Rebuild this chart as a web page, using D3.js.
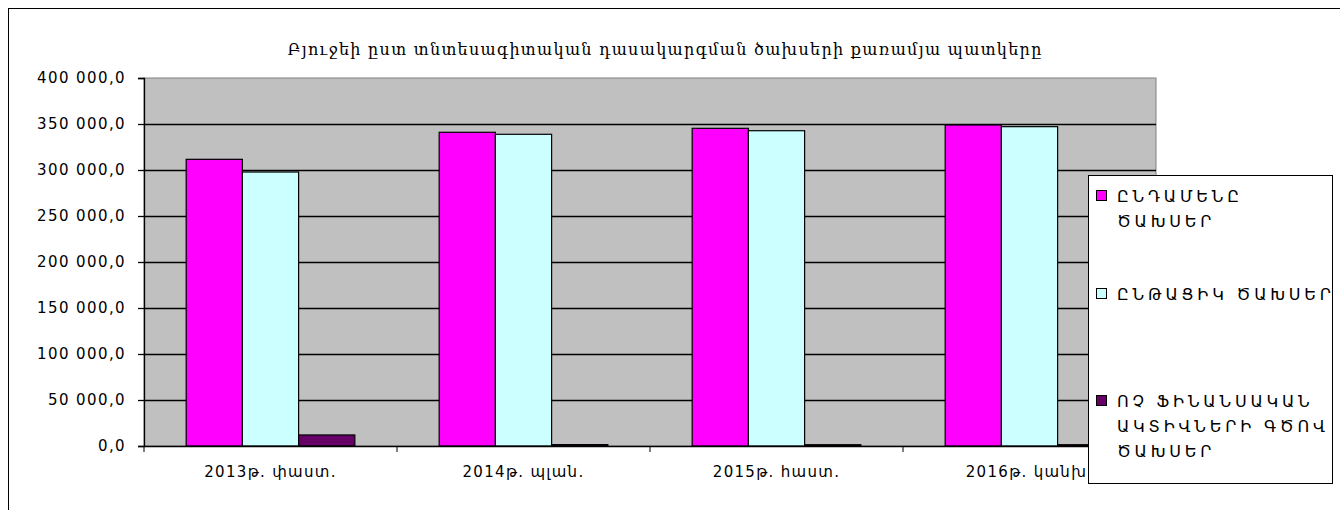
<!DOCTYPE html>
<html>
<head>
<meta charset="utf-8">
<script src="https://cdn.jsdelivr.net/npm/d3@7"></script>
<style>
  body { margin: 0; background: #fff; }
  svg text { fill: #000; }
</style>
</head>
<body>
<div id="chart"></div>
<script>
'use strict';

var title = 'Բյուջեի ըստ տնտեսագիտական դասակարգման ծախսերի քառամյա պատկերը';
var categories = ['2013թ.  փաստ.', '2014թ.  պլան.', '2015թ. հաստ.', '2016թ.  կանխ.'];
var seriesNames = [
  ['ԸՆԴԱՄԵՆԸ', 'ԾԱԽՍԵՐ'],
  ['ԸՆԹԱՑԻԿ ԾԱԽՍԵՐ'],
  ['ՈՉ ՖԻՆԱՆՍԱԿԱՆ', 'ԱԿՏԻՎՆԵՐԻ ԳԾՈՎ', 'ԾԱԽՍԵՐ']
];
var totalSpend = [311600, 341000, 345300, 348900];
var currentSpend = [297800, 338800, 342700, 347100];
var assetSpend = [12000, 1500, 1400, 1400];
var yTicks = [0, 50000, 100000, 150000, 200000, 250000, 300000, 350000, 400000];
var colors = ['#ff00ff', '#ccffff', '#660066'];

var W = 1340, H = 510;
var plot = {left: 144, top: 78, right: 1156, bottom: 446};

var svg = d3.select('#chart').append('svg')
    .attr('width', W)
    .attr('height', H);

// outer chart frame
svg.append('rect')
  .attr('x', 8.5).attr('y', 8.5)
  .attr('width', W).attr('height', H)
  .attr('fill', '#fff')
  .attr('stroke', '#000');

var x0 = d3.scaleBand()
  .domain(categories)
  .range([plot.left, plot.right]);

// excel style: gap width 150%
var x1 = d3.scaleBand()
  .domain([0, 1, 2])
  .range([0, x0.bandwidth()])
  .paddingOuter(0.75);

var y = d3.scaleLinear()
  .domain([0, 400000])
  .range([plot.bottom, plot.top]);

svg.append('rect')
  .attr('x', plot.left).attr('y', plot.top)
  .attr('width', plot.right - plot.left)
  .attr('height', plot.bottom - plot.top)
  .attr('fill', '#c0c0c0')
  .attr('stroke', '#808080');

svg.append('g')
  .selectAll('line')
  .data(yTicks.slice(1, -1))
  .enter()
  .append('line')
  .attr('x1', plot.left).attr('x2', plot.right)
  .attr('y1', function(d) { return Math.round(y(d)) + 0.5; })
  .attr('y2', function(d) { return Math.round(y(d)) + 0.5; })
  .attr('stroke', '#000')
  .attr('stroke-width', 1.5);

var fmt = function(d) {
  return d3.format(',.1f')(d).replace(/,/g, ' ').replace('.', ',');
};

var series = [totalSpend, currentSpend, assetSpend];
var rows = categories.map(function(c, i) {
  return series.map(function(s, k) { return {cat: c, k: k, v: s[i]}; });
});

svg.append('g')
  .selectAll('g')
  .data(rows)
  .enter()
  .append('g')
  .attr('transform', function(d) { return 'translate(' + x0(d[0].cat) + ',0)'; })
  .selectAll('rect')
  .data(function(d) { return d; })
  .enter()
  .append('rect')
  .attr('x', function(d) { return x1(d.k); })
  .attr('y', function(d) { return y(d.v); })
  .attr('width', x1.bandwidth())
  .attr('height', function(d) { return plot.bottom - y(d.v); })
  .attr('fill', function(d) { return colors[d.k]; })
  .attr('stroke', '#000')
  .attr('stroke-width', 1.2);

var yAxis = svg.append('g')
  .attr('transform', 'translate(' + plot.left + ',0)')
  .call(d3.axisLeft(y).tickValues(yTicks).tickFormat(fmt).tickSize(6).tickPadding(12));

var xAxis = svg.append('g')
  .attr('transform', 'translate(0,' + plot.bottom + ')')
  .call(d3.axisBottom(x0).tickSize(0).tickPadding(20));

// category boundary ticks
svg.append('g')
  .selectAll('line')
  .data(d3.range(categories.length + 1))
  .enter()
  .append('line')
  .attr('x1', function(i) { return plot.left + i * x0.bandwidth(); })
  .attr('x2', function(i) { return plot.left + i * x0.bandwidth(); })
  .attr('y1', plot.bottom)
  .attr('y2', plot.bottom + 6)
  .attr('stroke', '#000');

[yAxis, xAxis].forEach(function(a) {
  a.selectAll('path, line').attr('stroke', '#000').attr('stroke-width', 1.3);
  a.selectAll('text')
    .attr('font-family', '"DejaVu Sans", "Liberation Sans", sans-serif')
    .attr('font-size', 15)
    .attr('letter-spacing', 1.3)
    .attr('fill', '#000');
});
yAxis.selectAll('text').attr('letter-spacing', 1.4);

svg.append('text')
  .attr('x', 665).attr('y', 55)
  .attr('text-anchor', 'middle')
  .attr('font-family', '"DejaVu Serif", serif')
  .attr('font-size', 16)
  .attr('letter-spacing', 1.3)
  .text(title);

// legend
var legend = svg.append('g').attr('transform', 'translate(1088,175)');
legend.append('rect')
  .attr('x', 0.5).attr('y', 0.5)
  .attr('width', 244).attr('height', 308)
  .attr('fill', '#fff')
  .attr('stroke', '#000');

var itemY = [22, 120, 227];
var item = legend.selectAll('g.item')
  .data(seriesNames)
  .enter()
  .append('g')
  .attr('class', 'item')
  .attr('transform', function(d, i) { return 'translate(0,' + itemY[i] + ')'; });

item.append('rect')
  .attr('x', 8.5).attr('y', -6.5)
  .attr('width', 10).attr('height', 10)
  .attr('fill', function(d, i) { return colors[i]; })
  .attr('stroke', '#000');

item.append('text')
  .attr('font-family', '"DejaVu Sans", sans-serif')
  .attr('font-size', 16)
  .attr('letter-spacing', 3.8)
  .selectAll('tspan')
  .data(function(d) { return d; })
  .enter()
  .append('tspan')
  .attr('x', 29)
  .attr('y', function(d, j) { return 5 + j * 25; })
  .text(function(d) { return d; });
</script>
</body>
</html>
